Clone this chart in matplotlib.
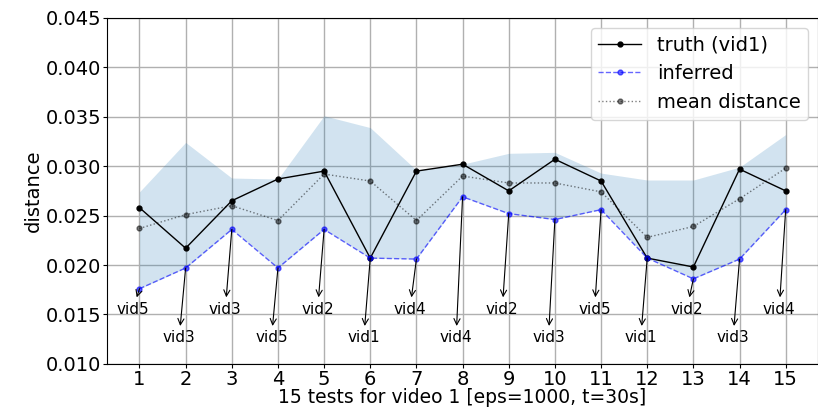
import numpy as np
import matplotlib
matplotlib.use("Agg")
import matplotlib.pyplot as plt

# tests 1..15 for video 1
tests = np.arange(1, 16)
truth = [0.0258, 0.0217, 0.0265, 0.0287, 0.0295, 0.0207, 0.0295, 0.0302,
         0.0275, 0.0307, 0.0285, 0.0207, 0.0198, 0.0297, 0.0275]
inferred = [0.0176, 0.0197, 0.0236, 0.0197, 0.0236, 0.0207, 0.0206, 0.0269,
            0.0252, 0.0246, 0.0256, 0.0207, 0.0186, 0.0206, 0.0256]
mean_dist = [0.0237, 0.0251, 0.0260, 0.0245, 0.0292, 0.0285, 0.0245, 0.0290,
             0.0283, 0.0283, 0.0274, 0.0228, 0.0239, 0.0267, 0.0298]
max_dist = [0.0274, 0.0324, 0.0288, 0.0287, 0.0351, 0.0339, 0.0296, 0.0302,
            0.0313, 0.0314, 0.0293, 0.0286, 0.0286, 0.0299, 0.0332]
labels = ["vid5", "vid3", "vid3", "vid5", "vid2", "vid1", "vid4", "vid4",
          "vid2", "vid3", "vid5", "vid1", "vid2", "vid3", "vid4"]

fig = plt.figure(figsize=(8.18, 4.07), dpi=100)
ax = fig.add_axes([0.131, 0.106, 0.869, 0.850])

ax.fill_between(tests, inferred, max_dist, color='C0', alpha=0.2, linewidth=0)
ax.plot(tests, truth, 'k-', marker='o', markersize=3.5, linewidth=1, label='truth (vid1)')
ax.plot(tests, inferred, '--', color='blue', marker='o', markersize=3.5, linewidth=1,
        alpha=0.6, label='inferred')
ax.plot(tests, mean_dist, ':', color='k', marker='o', markersize=3.5, linewidth=1,
        alpha=0.5, label='mean distance')

# label which video each inferred point came from
for i, (x, y, lab) in enumerate(zip(tests, inferred, labels)):
    ty = 0.01555 if i % 2 == 0 else 0.01265
    ax.annotate(lab, xy=(x, y), xytext=(x - 0.14, ty), fontsize=11,
                ha='center', va='center',
                arrowprops=dict(arrowstyle='<-', color='k', linewidth=0.8,
                                shrinkA=1, shrinkB=0))

ax.set_xlim(0.3, 15.7)
ax.set_ylim(0.010, 0.045)
ax.set_xticks(tests)
ax.set_yticks(np.arange(0.010, 0.0451, 0.005))
ax.yaxis.set_major_formatter(matplotlib.ticker.FormatStrFormatter('%.3f'))
ax.tick_params(labelsize=14, length=3)
ax.tick_params(axis='x', pad=1.5)
ax.tick_params(axis='y', pad=1.5)
ax.grid(True, color='#b0b0b0', linewidth=1)
ax.set_axisbelow(True)
ax.set_xlabel("15 tests for video 1 [eps=1000, t=30s]", fontsize=13.5, labelpad=-1)
ax.set_ylabel("distance", fontsize=14, labelpad=2)
ax.legend(loc='upper right', fontsize=14, handlelength=2.2)

fig.savefig("out.png", dpi=100)
